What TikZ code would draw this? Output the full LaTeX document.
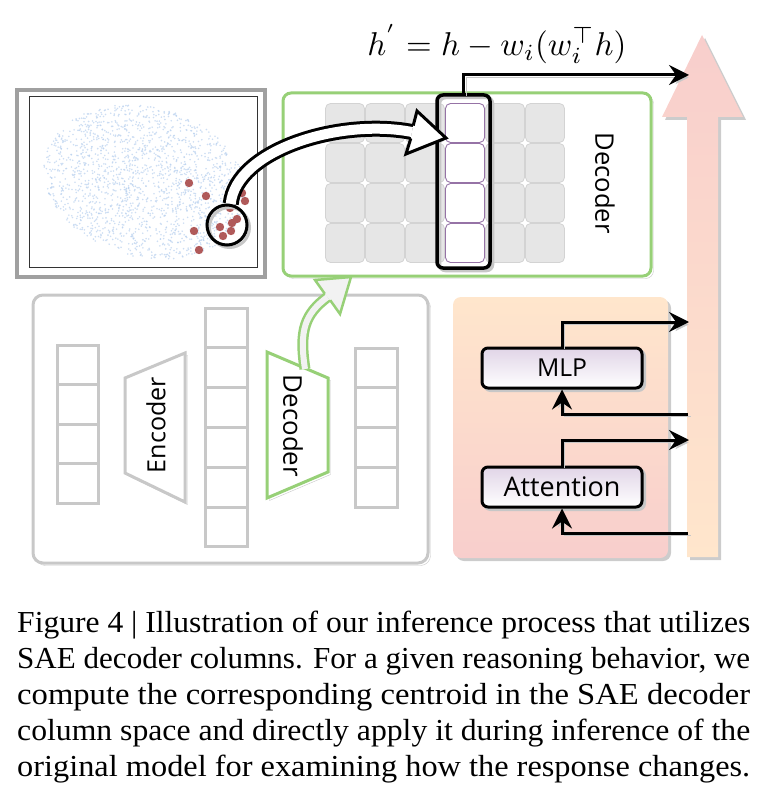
\documentclass[tikz,border=0pt]{standalone}
\usepackage{fontspec}
\usepackage{graphicx}
\usetikzlibrary{arrows.meta,calc}
\newfontfamily\sk{Open Sans}
\newfontfamily\capfont{Liberation Serif}
\definecolor{dgreen}{HTML}{97D077}
\definecolor{cellgray}{HTML}{E6E6E6}
\definecolor{cellline}{HTML}{D3D3D3}
\definecolor{purp}{HTML}{9673A6}
\definecolor{saegray}{HTML}{C8C8C8}
\definecolor{boxgray}{HTML}{A0A0A0}
\definecolor{peach}{HTML}{FFE6CC}
\definecolor{pinkc}{HTML}{F8CECC}
\definecolor{lav}{HTML}{E1D5E7}
\definecolor{reddot}{HTML}{B05A5A}
\definecolor{cloudc}{HTML}{B8D0EE}
\definecolor{arrfill}{HTML}{F2F2F2}
\begin{document}
\begin{tikzpicture}[x=1pt,y=-1pt,
  shd/.style={preaction={draw=black!22, transform canvas={shift={(2.5,2.5)}}}},
  shdf/.style={preaction={draw=black!22, fill=black!22, transform canvas={shift={(2.5,2.5)}}}},
  arr/.style={line width=3, -{Stealth[length=20pt,width=20pt,inset=7pt]}},
  saecell/.style={draw=saegray, line width=3, fill=white},
  gridcell/.style={draw=cellline, fill=cellgray, line width=0.8, rounded corners=5},
  hicell/.style={draw=purp, fill=white, line width=0.9, rounded corners=5},
  blk/.style={draw=black, line width=3, rounded corners=6, top color=lav, bottom color=white, minimum width=160, minimum height=40, inner sep=0},
  lbl/.style={inner sep=0, font=\sk}
]
\useasboundingbox (0,0) rectangle (766,799);

% ---------------- scatter box ----------------
\draw[boxgray, line width=4] (17,90) rectangle (265,277);
\draw[black!80, line width=1] (29,97) rectangle (257,267);
\pgfmathsetseed{4242}
\foreach \i in {1,...,1800}{
  \pgfmathsetmacro{\rr}{sqrt(rnd)}
  \pgfmathsetmacro{\pp}{360*rnd}
  \pgfmathsetmacro{\qx}{145 + 103*\rr*cos(\pp)*cos(15) - 75*\rr*sin(\pp)*sin(15)}
  \pgfmathsetmacro{\qy}{182 + 103*\rr*cos(\pp)*sin(15) + 75*\rr*sin(\pp)*cos(15)}
  \fill[cloudc, opacity=0.7] (\qx,\qy) circle (0.9);
}
\foreach \dx/\dy in {189/183, 206/196, 242/193, 245/201, 230/208, 237/219, 232/223, 220/227, 231/231, 223/236, 194/231, 199/250}{
  \fill[reddot] (\dx,\dy) circle (4.2);
}
\node[circle, draw, line width=3, minimum size=40, inner sep=0, shd] (cir) at (227,225) {};

% ---------------- big pink arrow ----------------
\fill[black!20] (690,560) -- (690,120) -- (665,120) -- (705,38) -- (746,120) -- (721,120) -- (721,560) -- cycle;
\shade[top color=pinkc, bottom color=peach] (687,557) -- (687,117) -- (662,117) -- (702,35) -- (743,117) -- (718,117) -- (718,557) -- cycle;

% ---------------- decoder panel ----------------
\draw[dgreen, line width=3, rounded corners=8, fill=white, shd] (283,93) rectangle (651,276);
\foreach \c in {0,1,2,4,5}{
  \foreach \r in {0,1,2,3}{
    \draw[gridcell] (325.5+40*\c,103.5+40*\r) rectangle ++(39,39);
  }
}
\foreach \r in {0,1,2,3}{
  \draw[hicell] (445.5,103.5+40*\r) rectangle ++(39,39);
}
\node[draw, line width=3.5, rounded corners=6, minimum width=53, minimum height=173, inner sep=0, shd] (col) at (463.5,181.5) {};
\node[lbl, rotate=-90] (dectxt) at (605,183) {\resizebox{101pt}{!}{Decoder}};

% formula
\node[inner sep=0] (eq) at (497,44) {\resizebox{259pt}{!}{$h^{'} = h - w_i(w_i^{\top} h)$}};

% output arrow to residual stream
\coordinate (topout) at (689,75);
\draw[arr, shd] (col.north) |- (topout);

% black curved block arrow from circle to column
\draw[line width=3, double=white, double distance=10] (cir.80) .. controls (236,150) and (340,118) .. (412,132);
\filldraw[fill=white, line width=3, line join=miter] (413.2,125.6) -- (417,111) -- (446,138) -- (406,154) -- (410.8,138.4);

% ---------------- SAE box ----------------
\draw[saegray, line width=3, rounded corners=10, fill=white, shd] (33,295) rectangle (428,563);
\foreach \r in {0,1,2,3}{ \draw[saecell] (57,345+39.5*\r) rectangle ++(41,39.5); }
\foreach \r in {0,...,5}{ \draw[saecell] (205,308+39.83*\r) rectangle ++(42,39.83); }
\foreach \r in {0,1,2,3}{ \draw[saecell] (355,348+39.75*\r) rectangle ++(42,39.75); }
\draw[saegray, line width=3, fill=white, line join=miter, shd] (125,378) -- (185,353) -- (185,502) -- (125,473) -- cycle;
\node[lbl, rotate=90] (enctxt) at (156,425) {\resizebox{96pt}{!}{Encoder}};
\draw[dgreen, line width=3, fill=white, line join=miter, shd] (267,352) -- (328,378) -- (328,472) -- (267,498) -- cycle;
\node[lbl, rotate=-90] (dec2txt) at (293,426) {\resizebox{102pt}{!}{Decoder}};

% green curved arrow
\draw[dgreen, line width=2.5, double=arrfill, double distance=6] (305,369) .. controls (299,330) and (305,314) .. (327.5,297);
\filldraw[draw=dgreen, fill=arrfill, line width=2.5, line join=miter] (324.8,293.8) -- (315,280) -- (351,277) -- (340,314) -- (330.2,300.2);

% ---------------- transformer block ----------------
\fill[black!20, rounded corners=8] (456,300) rectangle (671,561);
\shade[top color=peach, bottom color=pinkc, rounded corners=8] (453,297) rectangle (668,558);
\node[blk, shdf] (mlp) at (562,368) {\resizebox{50pt}{!}{\sk MLP}};
\node[blk, shdf] (att) at (562,487) {\resizebox{117pt}{!}{\sk Attention}};
\coordinate (mlpin) at (688,414);
\coordinate (mlpout) at (689,322);
\coordinate (attin) at (688,533);
\coordinate (attout) at (689,440);
\draw[arr, shd] (mlpin) -| (mlp.south);
\draw[arr, shd] (mlp.north) |- (mlpout);
\draw[arr, shd] (attin) -| (att.south);
\draw[arr, shd] (att.north) |- (attout);

% ---------------- caption ----------------
\begin{scope}[every node/.style={anchor=base west, inner sep=0, font=\capfont\fontsize{30.5}{36}\selectfont}]
\node (c1) at (17,632) {\resizebox{733pt}{\height}{Figure 4 | Illustration of our inference process that utilizes}};
\node (c2) at (17,668) {\resizebox{733pt}{\height}{SAE decoder columns. For a given reasoning behavior, we}};
\node (c3) at (17,704) {\resizebox{733pt}{\height}{compute the corresponding centroid in the SAE decoder}};
\node (c4) at (17,740) {\resizebox{733pt}{\height}{column space and directly apply it during inference of the}};
\node (c5) at (17,776) {\resizebox{733pt}{\height}{original model for examining how the response changes.}};
\end{scope}
\end{tikzpicture}
\end{document}
